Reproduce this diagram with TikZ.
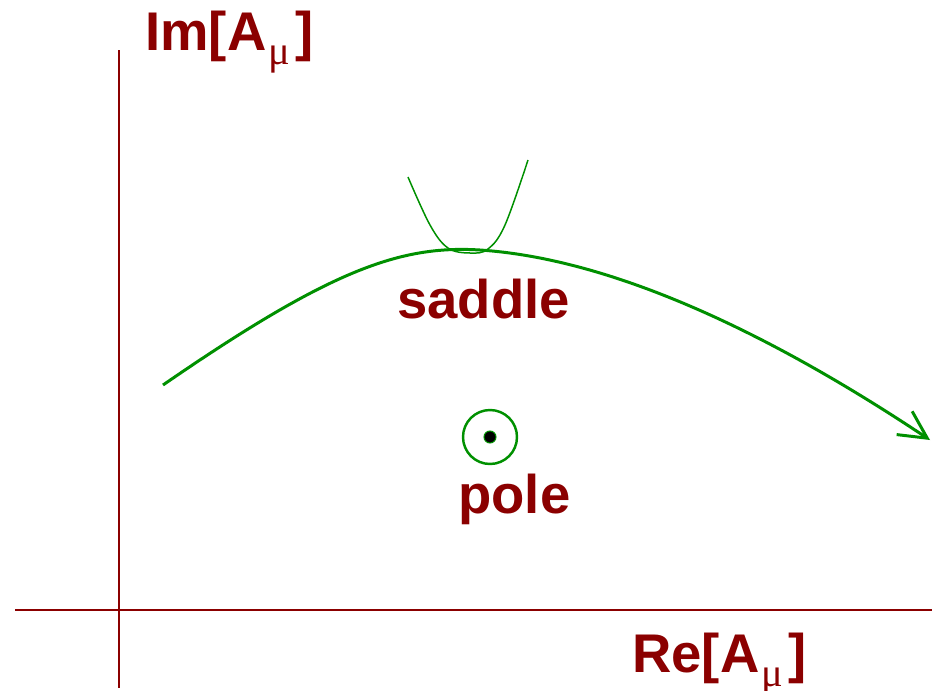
\documentclass[tikz,border=0pt]{standalone}
\usepackage{fontspec}
\setmainfont{Liberation Sans}
\newfontfamily\mufont{Liberation Serif}
\usetikzlibrary{arrows.meta}
\definecolor{axisred}{HTML}{8B0000}
\definecolor{pathgreen}{HTML}{009000}
\newcommand{\subm}{\kern1pt\raisebox{-8.5pt}{\mufont\mdseries\fontsize{23}{23}\selectfont μ}\kern3pt}
\tikzset{
  axis/.style={draw=axisred,line width=0.7pt},
  lbl/.style={text=axisred,font=\fontsize{31}{37}\selectfont\bfseries,inner sep=0pt,anchor=base west},
  contour/.style={draw=pathgreen,line width=1.7pt},
  flow/.style={draw=pathgreen,line width=0.85pt},
}
\begin{document}
\begin{tikzpicture}[x=0.02cm,y=-0.02cm]
\useasboundingbox (0,0) rectangle (932,690);

% axes
\draw[axis] (119,50) -- (119,688);
\draw[axis] (15,610) -- (932,610);
\node[lbl] (im) at (145,50) {Im[A\subm]};
\node[lbl] (re) at (632,672) {Re[A\subm]};

% steepest descent contour
\draw[contour,-{Straight Barb[length=5.5mm,width=5.6mm]}]
  (163,385) .. controls (330,270) and (400,245) .. (480,250)
  .. controls (600,258) and (750,320) .. (930,440);

% local profile at the saddle
\draw[flow] plot[smooth,tension=0.6] coordinates
  {(408,177) (430,225) (448,248) (470,253) (488,249) (505,225) (528,160)};
\node[lbl] (saddle) at (397,318) {saddle};

% pole
\draw[contour,line width=1.4pt] (490,437) circle (27);
\filldraw[fill=black,draw=pathgreen,line width=0.6pt] (490,437) circle (6);
\node[lbl] (pole) at (458,513) {pole};

\end{tikzpicture}
\end{document}
